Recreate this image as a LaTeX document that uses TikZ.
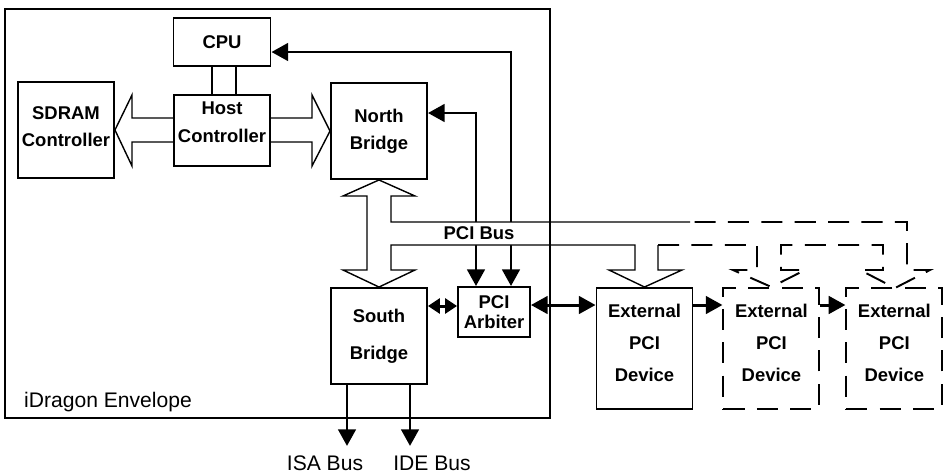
\documentclass[tikz,border=0pt]{standalone}
\usepackage{fontspec}
\setmainfont{Liberation Sans}
\usetikzlibrary{arrows.meta, positioning, calc}
\newcommand{\pxl}{0.02cm}

\begin{document}
\begin{tikzpicture}[
    x=0.02cm, y=-0.02cm,
    >={Triangle[length=9.5pt, width=10pt]},
    box/.style={
        draw,
        line width=1.1pt,
        align=center,
        inner sep=0pt,
        font=\fontsize{10.5}{15.4}\selectfont\bfseries
    },
    devbox/.style={box, minimum width=96*\pxl, minimum height=121*\pxl,
        font=\fontsize{10.5}{18.2}\selectfont\bfseries},
    ghost/.style={devbox, dash pattern=on 12pt off 7pt},
    bus/.style={line width=0.8pt, line join=miter},
    sig/.style={<->, line width=1.7pt},
    plain/.style={font=\fontsize{12}{14}\selectfont}
]
\useasboundingbox (0,0) rectangle (944,474);

\node[box, minimum width=97*\pxl, minimum height=48*\pxl] (cpu) at (222,42) {CPU};
\node[box, minimum width=96*\pxl, minimum height=96*\pxl, text depth=3.5pt] (sdram) at (66,130) {SDRAM\\Controller};
\node[box, minimum width=96*\pxl, minimum height=96*\pxl] (nb) at (379,131) {North\\Bridge};
\node[box, minimum width=96*\pxl, minimum height=96*\pxl,
      font=\fontsize{10.5}{21}\selectfont\bfseries] (sb) at (379,336) {South\\Bridge};
\node[box, minimum width=72*\pxl, minimum height=50*\pxl,
      font=\fontsize{10.5}{11.4}\selectfont\bfseries] (arb) at (494,312) {PCI\\Arbiter};

% external devices
\node[devbox, text depth=6.5pt] (dev1) at (644.5,348.5) {External\\PCI\\Device};
\node[ghost, text depth=6.5pt, right=0.58cm of dev1] (dev2) {External\\PCI\\Device};
\node[ghost, text depth=6.5pt, right=0.5cm of dev2] (dev3) {External\\PCI\\Device};

% memory path
\draw[bus, fill=white] (sdram.east) -- (132,95) -- (132,118) -- (312,118) -- (312,95)
    -- (nb.west) -- (312,166) -- (312,142) -- (132,142) -- (132,166) -- cycle;
\node[box, fill=white, minimum width=96*\pxl, minimum height=71*\pxl, text depth=9.5pt] (host) at (222,130.5) {Host\\Controller};
\draw[line width=1.1pt] ($(cpu.south)+(-10,0)$) -- ($(host.north)+(-10,0)$);
\draw[line width=1.1pt] ($(cpu.south)+(14,0)$) -- ($(host.north)+(14,0)$);

% arbiter lines
\draw[sig] ($(cpu.east)+(0,10)$) -| ($(arb.north)+(17,0)$);
\draw[sig] ($(nb.east)+(0,-18)$) -| ($(arb.north)+(-18,0)$);

% PCI bus
\fill[white] (690,222) -- (391,222) -- (391,196) -- (415,196) -- (nb.south) -- (343,196)
    -- (367,196) -- (367,270) -- (343,270) -- (sb.north) -- (415,270) -- (391,270)
    -- (391,245) -- (635,245) -- (635,270) -- (609,270) -- (dev1.north) -- (682,270)
    -- (658,270) -- (658,245) -- (757,245) -- (757,270) -- (733,270) -- (dev2.north)
    -- (805,270) -- (781,270) -- (781,245) -- (883,245) -- (883,270) -- (860,270)
    -- (895,288) -- (930,270) -- (907,270) -- (907,222) -- cycle;
\draw[bus] (690,222) -- (391,222) -- (391,196) -- (415,196) -- (nb.south) -- (343,196)
    -- (367,196) -- (367,270) -- (343,270) -- (sb.north) -- (415,270) -- (391,270)
    -- (391,245) -- (635,245) -- (635,270) -- (609,270) -- (dev1.north) -- (682,270)
    -- (658,270) -- (658,245);
\draw[bus, line width=1.1pt, dash pattern=on 12pt off 7pt] (658,245) -- (757,245) -- (757,270)
    -- (733,270) -- (dev2.north) -- (805,270) -- (781,270) -- (781,245) -- (883,245)
    -- (883,270) -- (860,270) -- (895,288) -- (930,270) -- (907,270) -- (907,222) -- (690,222);
\node[box, draw=none] (pcibus) at (479,233.5) {PCI Bus};

% envelope
\node[draw, line width=1.2pt, minimum width=545*\pxl, minimum height=409*\pxl, inner sep=0pt] (env) at (277.5,213.5) {};
\node[plain, anchor=west] (envlbl) at (18,402) {iDragon Envelope};

\coordinate (arbR) at ([yshift=0.14cm]arb.east);
\draw[line width=1.7pt, {Triangle[length=6.8pt, width=8.5pt]}-{Triangle[length=6.8pt, width=8.5pt]}]
    ([yshift=0.12cm]arb.west -| sb.east) -- ([yshift=0.12cm]arb.west);
\draw[sig] (arbR) -- (arbR -| dev1.west);
\draw[->, line width=1.7pt] (dev1.east |- arbR) -- (dev2.west |- arbR);
\draw[->, line width=1.7pt] (dev2.east |- arbR) -- (dev3.west |- arbR);

% south bridge outputs
\coordinate (isaend) at ($(sb.south)+(-32,61)$);
\coordinate (ideend) at ($(sb.south)+(31,61)$);
\draw[->, line width=1.7pt] ($(sb.south)+(-32,0)$) -- (isaend);
\draw[->, line width=1.7pt] ($(sb.south)+(31,0)$) -- (ideend);
\node[plain] (isa) at (325,463) {ISA Bus};
\node[plain] (ide) at (432,463) {IDE Bus};

\end{tikzpicture}
\end{document}
